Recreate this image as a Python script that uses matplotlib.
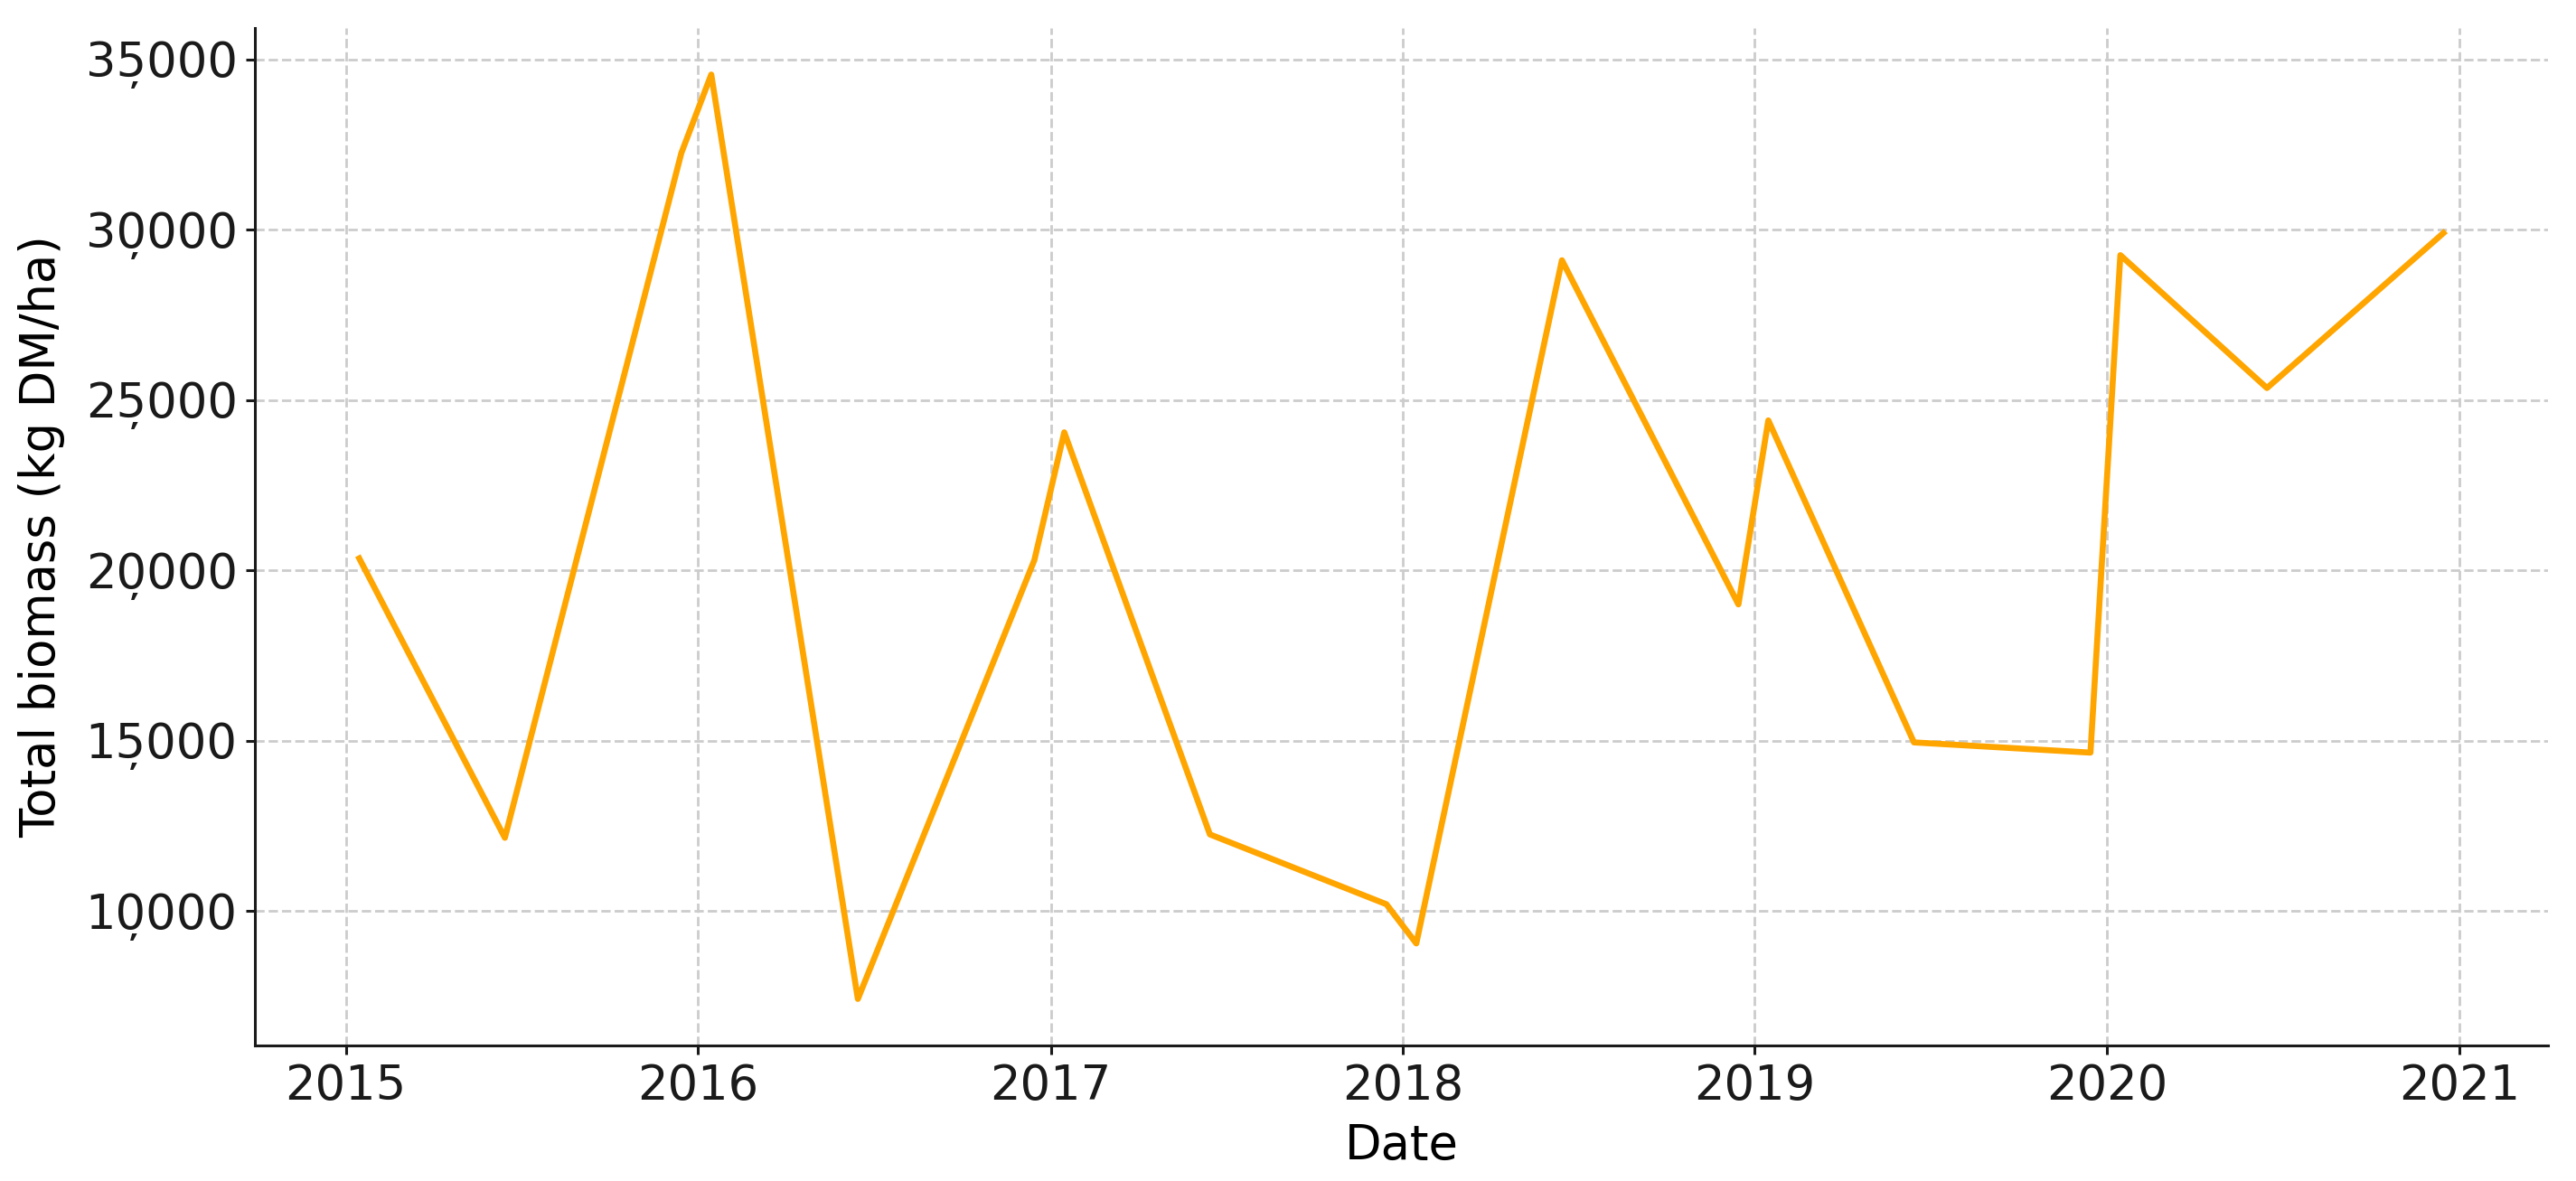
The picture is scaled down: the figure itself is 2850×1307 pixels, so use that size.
import matplotlib
matplotlib.use("Agg")
import matplotlib.pyplot as plt
import matplotlib.dates as mdates
import matplotlib.ticker as mticker
import pandas as pd

# sample dates and biomass readings
dates = ["2015-01-15", "2015-06-15", "2015-12-15",
         "2016-01-15", "2016-06-15", "2016-12-15",
         "2017-01-15", "2017-06-15", "2017-12-15",
         "2018-01-15", "2018-06-15", "2018-12-15",
         "2019-01-15", "2019-06-15", "2019-12-15",
         "2020-01-15", "2020-06-15", "2020-12-15"]
biomass = [20350, 12150, 32250,
           34550, 7420, 20300,
           24050, 12250, 10200,
           9050, 29100, 19000,
           24400, 14950, 14650,
           29250, 25350, 29900]

df = pd.DataFrame({"Date": pd.to_datetime(dates), "Biomass": biomass})

plt.rcParams['font.family'] = ['DejaVu Sans']
plt.rcParams['font.size'] = 19

fig, ax = plt.subplots(figsize=(14.25, 6.535), dpi=200)
ax.plot(df["Date"], df["Biomass"], color="#FFA500", linewidth=2.4)

ax.set_xlabel("Date", labelpad=5)
ax.set_ylabel("Total biomass (kg DM/ha)", labelpad=8)

ax.xaxis.set_major_locator(mdates.YearLocator())
ax.xaxis.set_major_formatter(mdates.DateFormatter("%Y"))


def thousands(v, pos):
    s = f"{int(v):d}"
    if len(s) > 3:
        return s[:-3] + "\u0326" + s[-3:]
    return s


ax.yaxis.set_major_formatter(mticker.FuncFormatter(thousands))

ax.grid(True, linestyle="--", color="#cccccc", linewidth=1)
ax.spines["top"].set_visible(False)
ax.spines["right"].set_visible(False)
for s in ["left", "bottom"]:
    ax.spines[s].set_linewidth(1.1)
    ax.spines[s].set_color("#1a1a1a")
ax.tick_params(length=3.5, width=1.1, color="#1a1a1a", labelcolor="#1a1a1a")

fig.subplots_adjust(left=0.099, right=0.989, top=0.976, bottom=0.115)
fig.savefig("out.png", dpi=200)
